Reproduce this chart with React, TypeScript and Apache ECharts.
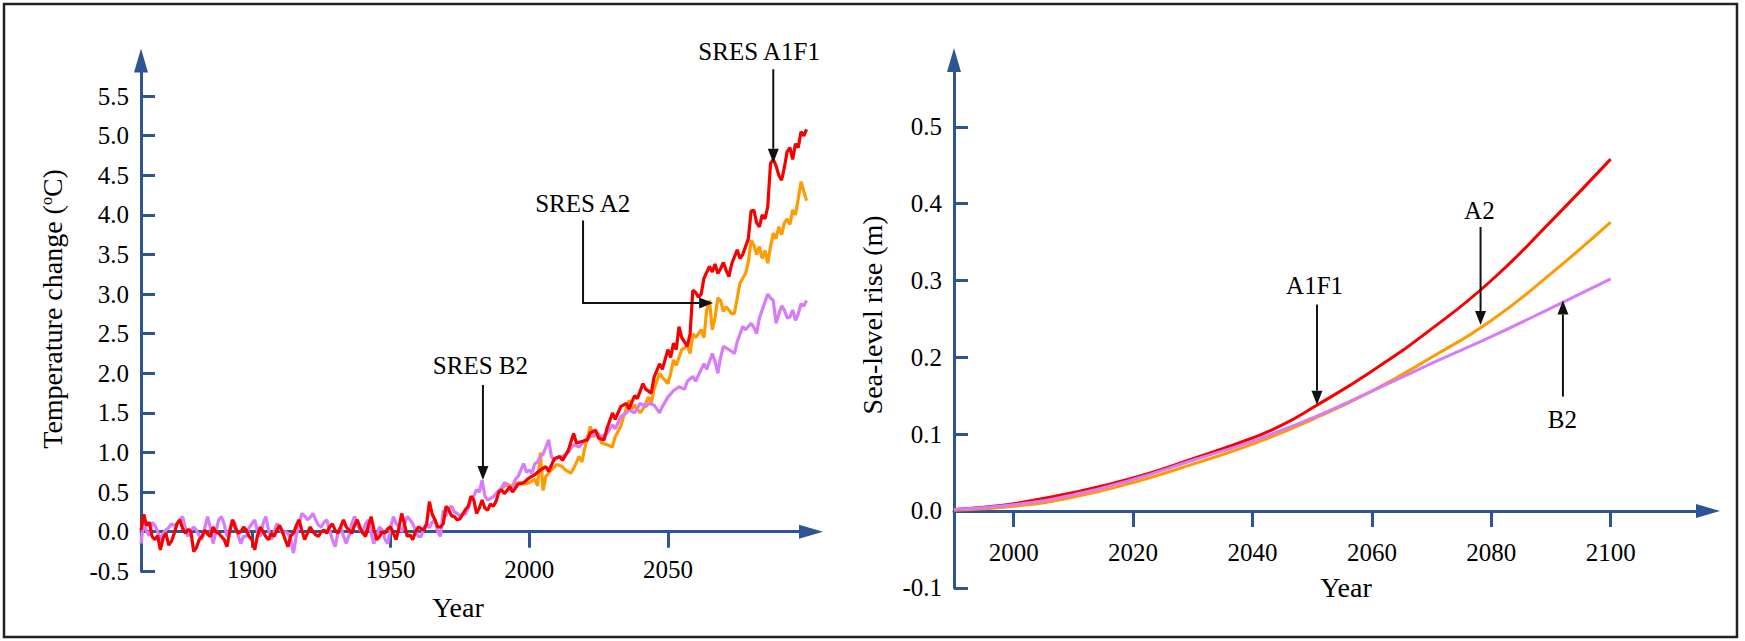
import React, { useEffect, useRef } from "react";
import * as echarts from "echarts";

// ---------- data ----------
const tempYearTicks = [1900, 1950, 2000, 2050];
const tempTicks = [-0.5, 0, 0.5, 1, 1.5, 2, 2.5, 3, 3.5, 4, 4.5, 5, 5.5];
const seaYearTicks = [2000, 2020, 2040, 2060, 2080, 2100];
const seaTicks = [-0.1, 0, 0.1, 0.2, 0.3, 0.4, 0.5];

// Temperature change (°C), SRES A1F1
const tempA1F1: [number, number][] = [
  [1860, 0.02], [1861, 0.22], [1862, 0.08], [1863, 0.12], [1864, -0.06], [1865, -0.1], [1866, -0.05], [1867, -0.23], [1868, -0.08], [1869, -0.02],
  [1870, -0.17], [1871, -0.12], [1872, -0.02], [1873, 0.1], [1874, 0.15], [1875, 0.04], [1876, -0.02], [1877, 0.03], [1878, 0.0], [1879, -0.25],
  [1880, -0.2], [1881, -0.1], [1882, -0.06], [1883, 0.02], [1884, -0.03], [1885, -0.06], [1886, 0.06], [1887, 0.0], [1888, -0.02], [1889, -0.06],
  [1890, -0.1], [1891, -0.19], [1892, 0.0], [1893, 0.15], [1894, 0.05], [1895, -0.02], [1896, 0.0], [1897, 0.06], [1898, 0.02], [1899, -0.06],
  [1900, -0.1], [1901, -0.23], [1902, -0.05], [1903, 0.06], [1904, 0.0], [1905, -0.06], [1906, -0.1], [1907, -0.02], [1908, -0.06], [1909, 0.02],
  [1910, 0.08], [1911, 0.0], [1912, -0.1], [1913, -0.19], [1914, -0.05], [1915, -0.02], [1916, 0.08], [1917, 0.15], [1918, 0.02], [1919, -0.1],
  [1920, -0.02], [1921, 0.06], [1922, 0.0], [1923, -0.04], [1924, -0.06], [1925, 0.0], [1926, 0.02], [1927, -0.02], [1928, 0.06], [1929, 0.1],
  [1930, 0.02], [1931, -0.02], [1932, 0.06], [1933, 0.15], [1934, 0.06], [1935, 0.02], [1936, -0.02], [1937, 0.08], [1938, 0.15], [1939, 0.05],
  [1940, -0.02], [1941, -0.06], [1942, 0.08], [1943, 0.19], [1944, 0.02], [1945, -0.1], [1946, -0.06], [1947, 0.0], [1948, -0.02], [1949, 0.04],
  [1950, 0.06], [1951, -0.02], [1952, -0.1], [1953, 0.05], [1954, 0.23], [1955, 0.1], [1956, -0.06], [1957, -0.04], [1958, -0.1], [1959, 0.0],
  [1960, 0.06], [1961, 0.04], [1962, 0.02], [1963, 0.1], [1964, 0.38], [1965, 0.22], [1966, 0.15], [1967, 0.06], [1968, 0.06], [1969, 0.1],
  [1970, 0.32], [1971, 0.28], [1972, 0.2], [1973, 0.19], [1974, 0.15], [1975, 0.16], [1976, 0.22], [1977, 0.28], [1978, 0.32], [1979, 0.45],
  [1980, 0.4], [1981, 0.23], [1982, 0.3], [1983, 0.4], [1984, 0.3], [1985, 0.27], [1986, 0.35], [1987, 0.32], [1988, 0.38], [1989, 0.5],
  [1990, 0.53], [1991, 0.48], [1992, 0.52], [1993, 0.57], [1994, 0.5], [1995, 0.55], [1996, 0.6], [1997, 0.61], [1998, 0.62], [1999, 0.65],
  [2000, 0.68], [2002, 0.72], [2004, 0.78], [2006, 0.82], [2007, 0.76], [2009, 0.92], [2011, 0.95], [2012, 0.9], [2014, 1.02], [2016, 1.24],
  [2017, 1.12], [2019, 1.14], [2021, 1.16], [2022, 1.25], [2024, 1.28], [2025, 1.18], [2027, 1.16], [2028, 1.3], [2030, 1.5], [2031, 1.42],
  [2033, 1.58], [2035, 1.62], [2036, 1.55], [2038, 1.72], [2039, 1.68], [2041, 1.87], [2042, 1.8], [2044, 1.75], [2045, 1.95], [2047, 2.12],
  [2048, 2.05], [2050, 2.3], [2051, 2.2], [2052, 2.38], [2053, 2.3], [2054, 2.59], [2055, 2.45], [2057, 2.34], [2058, 2.5], [2059, 3.05],
  [2060, 3.02], [2061, 2.96], [2062, 3.0], [2063, 3.2], [2065, 3.35], [2066, 3.28], [2067, 3.38], [2068, 3.26], [2069, 3.32], [2070, 3.4],
  [2071, 3.3], [2072, 3.22], [2073, 3.38], [2075, 3.56], [2076, 3.45], [2077, 3.5], [2078, 3.6], [2079, 3.7], [2080, 4.05], [2081, 4.06],
  [2082, 3.9], [2083, 3.85], [2084, 4.0], [2085, 3.95], [2086, 4.1], [2087, 4.65], [2088, 4.7], [2089, 4.62], [2090, 4.5], [2091, 4.44],
  [2092, 4.6], [2093, 4.8], [2094, 4.85], [2095, 4.7], [2096, 4.9], [2097, 4.85], [2098, 5.05], [2099, 5.0], [2100, 5.08],
];

// Temperature change (°C), SRES A2
const tempA2: [number, number][] = [
  [1990, 0.55], [1992, 0.6], [1994, 0.57], [1996, 0.62], [1998, 0.6], [2000, 0.62], [2002, 0.66], [2003, 0.58], [2004, 1.0], [2005, 0.52],
  [2006, 0.7], [2008, 0.78], [2010, 0.85], [2012, 0.82], [2013, 0.78], [2015, 0.74], [2016, 0.8], [2018, 0.95], [2019, 0.88], [2020, 1.05],
  [2022, 1.33], [2023, 1.2], [2025, 1.24], [2026, 1.12], [2028, 1.1], [2030, 1.07], [2031, 1.2], [2033, 1.33], [2034, 1.45], [2036, 1.66],
  [2037, 1.55], [2038, 1.6], [2040, 1.5], [2041, 1.55], [2043, 1.7], [2044, 1.62], [2045, 1.8], [2047, 2.0], [2048, 1.95], [2050, 1.87],
  [2051, 2.0], [2052, 2.17], [2053, 2.1], [2054, 2.2], [2055, 2.3], [2057, 2.34], [2058, 2.25], [2059, 2.5], [2060, 2.45], [2062, 2.55],
  [2063, 2.45], [2064, 2.8], [2065, 2.92], [2066, 2.55], [2067, 2.7], [2068, 2.95], [2069, 2.92], [2070, 2.78], [2071, 2.84], [2072, 2.8],
  [2073, 2.75], [2074, 2.76], [2075, 2.95], [2076, 3.14], [2077, 3.2], [2078, 3.26], [2079, 3.4], [2080, 3.68], [2081, 3.62], [2082, 3.5],
  [2083, 3.6], [2084, 3.45], [2085, 3.55], [2086, 3.39], [2087, 3.6], [2088, 3.77], [2089, 3.7], [2090, 3.85], [2091, 3.75], [2092, 3.9],
  [2093, 3.95], [2094, 3.88], [2095, 4.06], [2096, 4.0], [2097, 4.2], [2098, 4.42], [2099, 4.3], [2100, 4.18],
];

// Temperature change (°C), SRES B2
const tempB2: [number, number][] = [
  [1860, -0.15], [1861, 0.15], [1862, 0.0], [1863, -0.05], [1864, 0.12], [1865, 0.08], [1866, 0.0], [1867, -0.1], [1868, -0.02], [1869, 0.02],
  [1870, 0.05], [1871, 0.1], [1872, 0.08], [1873, 0.1], [1874, 0.15], [1875, 0.19], [1876, 0.05], [1877, -0.06], [1878, 0.02], [1879, 0.06],
  [1880, 0.02], [1881, -0.05], [1882, -0.1], [1883, 0.05], [1884, 0.19], [1885, 0.05], [1886, -0.15], [1887, 0.0], [1888, 0.15], [1889, 0.19],
  [1890, 0.1], [1891, -0.06], [1892, 0.02], [1893, 0.15], [1894, 0.1], [1895, -0.05], [1896, -0.15], [1897, -0.06], [1898, -0.06], [1899, 0.05],
  [1900, 0.1], [1901, 0.15], [1902, 0.0], [1903, -0.06], [1904, 0.1], [1905, 0.19], [1906, 0.02], [1907, -0.1], [1908, 0.0], [1909, 0.1],
  [1910, 0.05], [1911, -0.02], [1912, 0.0], [1913, -0.02], [1914, -0.1], [1915, -0.27], [1916, -0.05], [1917, 0.1], [1918, 0.23], [1919, 0.2],
  [1920, 0.15], [1921, 0.18], [1922, 0.23], [1923, 0.15], [1924, 0.08], [1925, 0.06], [1926, 0.12], [1927, 0.15], [1928, 0.02], [1929, -0.1],
  [1930, -0.19], [1931, -0.02], [1932, 0.06], [1933, -0.05], [1934, -0.15], [1935, -0.05], [1936, 0.1], [1937, 0.19], [1938, 0.1], [1939, 0.02],
  [1940, 0.0], [1941, 0.1], [1942, 0.15], [1943, -0.02], [1944, -0.15], [1945, -0.05], [1946, 0.06], [1947, 0.02], [1948, -0.1], [1949, -0.15],
  [1950, 0.05], [1951, 0.19], [1952, 0.1], [1953, 0.06], [1954, 0.0], [1955, 0.1], [1956, 0.19], [1957, 0.15], [1958, 0.1], [1959, 0.02],
  [1960, -0.06], [1961, -0.06], [1962, 0.05], [1963, 0.1], [1964, 0.05], [1965, 0.12], [1966, 0.15], [1967, 0.0], [1968, -0.06], [1969, 0.27],
  [1970, 0.2], [1971, 0.3], [1972, 0.32], [1973, 0.25], [1974, 0.23], [1975, 0.2], [1976, 0.23], [1977, 0.22], [1978, 0.3], [1979, 0.4],
  [1980, 0.45], [1981, 0.53], [1982, 0.5], [1983, 0.65], [1984, 0.45], [1985, 0.4], [1986, 0.42], [1987, 0.44], [1988, 0.48], [1989, 0.52],
  [1990, 0.55], [1991, 0.62], [1992, 0.6], [1993, 0.53], [1994, 0.57], [1995, 0.66], [1996, 0.7], [1997, 0.78], [1998, 0.86], [1999, 0.75],
  [2000, 0.78], [2001, 0.74], [2002, 0.86], [2003, 0.88], [2004, 0.95], [2005, 0.98], [2006, 1.07], [2007, 1.16], [2008, 0.95], [2009, 0.9],
  [2010, 0.93], [2012, 0.95], [2014, 1.0], [2016, 1.1], [2018, 1.07], [2020, 1.15], [2022, 1.2], [2024, 1.24], [2026, 1.2], [2028, 1.24],
  [2030, 1.35], [2031, 1.3], [2033, 1.45], [2035, 1.5], [2036, 1.54], [2038, 1.5], [2040, 1.62], [2042, 1.58], [2043, 1.62], [2045, 1.6],
  [2047, 1.5], [2048, 1.58], [2050, 1.7], [2052, 1.78], [2054, 1.83], [2056, 1.8], [2057, 1.9], [2059, 1.96], [2060, 1.9], [2062, 2.05],
  [2063, 2.12], [2064, 2.05], [2066, 2.25], [2067, 2.15], [2068, 2.0], [2069, 2.2], [2070, 2.34], [2072, 2.3], [2074, 2.25], [2075, 2.4],
  [2077, 2.59], [2078, 2.55], [2080, 2.63], [2081, 2.58], [2082, 2.5], [2083, 2.7], [2085, 2.9], [2086, 3.0], [2087, 2.95], [2088, 2.92],
  [2089, 2.63], [2090, 2.75], [2091, 2.85], [2092, 2.8], [2093, 2.7], [2094, 2.71], [2095, 2.8], [2096, 2.67], [2097, 2.75], [2098, 2.88],
  [2099, 2.85], [2100, 2.92],
];

// Sea-level rise (m)
const seaA1F1: [number, number][] = [
  [1990, 0.002], [1995, 0.005], [2000, 0.0095], [2010, 0.024], [2020, 0.043], [2030, 0.068], [2040, 0.095], [2045, 0.112],
  [2050, 0.134], [2060, 0.182], [2070, 0.237], [2080, 0.3], [2090, 0.377], [2100, 0.458],
];
const seaA2: [number, number][] = [
  [1990, 0.001], [2000, 0.006], [2010, 0.018], [2020, 0.037], [2030, 0.061], [2040, 0.087], [2050, 0.119], [2060, 0.156],
  [2070, 0.2], [2080, 0.248], [2090, 0.309], [2100, 0.376],
];
const seaB2: [number, number][] = [
  [1990, 0.002], [2000, 0.008], [2010, 0.021], [2020, 0.041], [2030, 0.066], [2040, 0.091], [2050, 0.121], [2060, 0.156],
  [2070, 0.192], [2080, 0.227], [2090, 0.264], [2100, 0.302],
];

// Annotation arrows, in data coordinates: label centre, then the arrow path (last point = tip)
const tempNotes = [
  { text: "SRES A1F1", at: [2082.9, 6.06], path: [[2088, 5.84], [2088, 4.66]] },
  { text: "SRES A2", at: [2019.3, 4.14], path: [[2019.4, 3.93], [2019.4, 2.888], [2066.3, 2.888]] },
  { text: "SRES B2", at: [1982.4, 2.1], path: [[1983.3, 1.853], [1983.3, 0.653]] },
];
const seaNotes = [
  { text: "A1F1", at: [2050.4, 0.294], path: [[2050.8, 0.2687], [2050.8, 0.1384]] },
  { text: "A2", at: [2078.0, 0.391], path: [[2078.2, 0.3697], [2078.2, 0.2421]] },
  { text: "B2", at: [2091.9, 0.1197], path: [[2092, 0.1489], [2092, 0.274]] },
];

// ---------- styles ----------
const FONT = "Times New Roman, Liberation Serif, DejaVu Serif, serif";
const AXIS = "#2E5496";
const TXT = "#000000";
const RED = "#F60000";
const ORANGE = "#FF9A00";
const VIOLET = "#D77CF8";
const NAME_SIZE = 28;

function xAxisCfg(gridIndex: number, min: number, max: number, ticks: number[], labelMargin: number, nameGap: number, namePad: number[]) {
  return {
    type: "value",
    gridIndex,
    min,
    max,
    axisLine: {
      show: true,
      onZero: true,
      symbol: ["none", "triangle"],
      symbolSize: [14, 24],
      lineStyle: { color: AXIS, width: 3 },
    },
    axisTick: { show: true, inside: false, length: 16, customValues: ticks, lineStyle: { color: AXIS, width: 3 } },
    axisLabel: {
      customValues: ticks,
      margin: labelMargin,
      fontSize: 25,
      fontFamily: FONT,
      color: TXT,
      formatter: (v: number) => String(v),
    },
    splitLine: { show: false },
    name: "Year",
    nameLocation: "middle",
    nameGap,
    nameTextStyle: { fontSize: NAME_SIZE, fontFamily: FONT, color: TXT, padding: namePad },
  };
}

function yAxisCfg(gridIndex: number, min: number, max: number, ticks: number[], name: string, rich: any, nameGap: number, namePad: number[]) {
  return {
    type: "value",
    gridIndex,
    min,
    max,
    axisLine: {
      show: true,
      onZero: false,
      symbol: ["none", "triangle"],
      symbolSize: [14, 24],
      lineStyle: { color: AXIS, width: 3 },
    },
    axisTick: { show: true, inside: true, length: 14, customValues: ticks, lineStyle: { color: AXIS, width: 3 } },
    axisLabel: {
      customValues: ticks,
      margin: 12,
      fontSize: 25,
      fontFamily: FONT,
      color: TXT,
      formatter: (v: number) => v.toFixed(1),
    },
    splitLine: { show: false },
    name,
    nameLocation: "middle",
    nameGap,
    nameTextStyle: { fontSize: NAME_SIZE, fontFamily: FONT, color: TXT, padding: namePad, rich },
  };
}

function lineSeries(name: string, data: [number, number][], color: string, gi: number, smooth: boolean, width: number) {
  return {
    name,
    type: "line",
    xAxisIndex: gi,
    yAxisIndex: gi,
    data,
    showSymbol: false,
    symbol: "none",
    smooth,
    lineStyle: { color, width },
    itemStyle: { color },
    z: 3,
  };
}

export default function App() {
  const ref = useRef<HTMLDivElement>(null);

  useEffect(() => {
    if (!ref.current) return;
    const chart = echarts.init(ref.current, null, { renderer: "svg" });
    const tempName = "{t|Temperature change (}{s|o}{t|C)}";
    const tempRich = {
      t: { fontSize: NAME_SIZE, fontFamily: FONT, color: TXT },
      s: { fontSize: 16, fontFamily: FONT, color: TXT, verticalAlign: "top", padding: [0, 0, 10, 0] },
    };
    chart.setOption({
      animation: false,
      backgroundColor: "#ffffff",
      textStyle: { fontFamily: FONT },
      grid: [
        { left: 141, top: 60.5, width: 670, height: 510.8, containLabel: false, outerBoundsMode: "none" },
        { left: 954, top: 60, width: 754, height: 527.8, containLabel: false, outerBoundsMode: "none" },
      ],
      xAxis: [
        xAxisCfg(0, 1860, 2101.6, tempYearTicks, -14, 22, [0, 36, 0, 0]),
        xAxisCfg(1, 1990, 2116.3, seaYearTicks, -48, -14, [0, 0, 0, 30]),
      ],
      yAxis: [
        yAxisCfg(0, -0.5, 5.95, tempTicks, tempName, tempRich, 75, [0, 0, 0, 14]),
        yAxisCfg(1, -0.1, 0.587, seaTicks, "Sea-level rise (m)", undefined, 68, [0, 0, 0, 18]),
      ],
      series: [
        lineSeries("SRES A2", tempA2, ORANGE, 0, false, 3.2),
        lineSeries("SRES B2", tempB2, VIOLET, 0, false, 3.2),
        lineSeries("SRES A1F1", tempA1F1, RED, 0, false, 3.2),
        lineSeries("A2", seaA2, ORANGE, 1, true, 3),
        lineSeries("A1F1", seaA1F1, RED, 1, true, 3),
        lineSeries("B2", seaB2, VIOLET, 1, true, 3),
      ],
    });

    const graphics: any[] = [
      {
        type: "rect",
        shape: { x: 4, y: 4, width: 1733, height: 633 },
        style: { fill: "none", stroke: "#222", lineWidth: 2.5 },
        silent: true,
        z: 100,
      },
    ];
    const addNotes = (notes: any[], gi: number) => {
      notes.forEach((n) => {
        const pts = n.path.map((p: number[]) => chart.convertToPixel({ gridIndex: gi }, p) as number[]);
        const tip = pts[pts.length - 1];
        const prev = pts[pts.length - 2];
        const dx = tip[0] - prev[0];
        const dy = tip[1] - prev[1];
        const len = Math.sqrt(dx * dx + dy * dy) || 1;
        const ux = dx / len;
        const uy = dy / len;
        const headLen = 14;
        const half = 5.5;
        const base = [tip[0] - ux * headLen, tip[1] - uy * headLen];
        const linePts = pts.slice(0, -1).concat([base]);
        graphics.push({
          type: "polyline",
          shape: { points: linePts },
          style: { stroke: "#111", lineWidth: 2, fill: "none" },
          silent: true,
          z: 50,
        });
        graphics.push({
          type: "polygon",
          shape: {
            points: [
              tip,
              [base[0] - uy * half, base[1] + ux * half],
              [base[0] + uy * half, base[1] - ux * half],
            ],
          },
          style: { fill: "#111" },
          silent: true,
          z: 50,
        });
        const c = chart.convertToPixel({ gridIndex: gi }, n.at) as number[];
        graphics.push({
          type: "text",
          x: c[0],
          y: c[1],
          style: {
            text: n.text,
            fontSize: 25,
            fontFamily: FONT,
            fill: TXT,
            align: "center",
            verticalAlign: "middle",
          },
          silent: true,
          z: 50,
        });
      });
    };
    addNotes(tempNotes, 0);
    addNotes(seaNotes, 1);
    chart.setOption({ graphic: graphics });

    return () => chart.dispose();
  }, []);

  return (
    <div
      ref={ref}
      style={{ position: "absolute", left: 0, top: 0, width: 1745, height: 641, background: "#fff", fontFamily: "serif" }}
    />
  );
}
